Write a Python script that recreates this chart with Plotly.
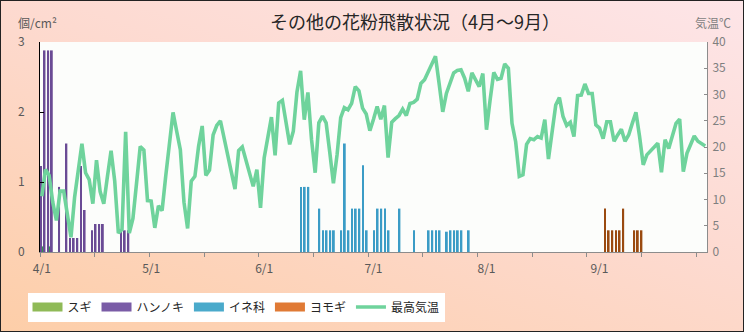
import plotly.graph_objects as go
import pandas as pd

# ---------------- data ----------------
dates = [f"{d.month}/{d.day}" for d in pd.date_range("2023-04-01", "2023-09-30")]
idx = {d: i for i, d in enumerate(dates)}

month_labels = ["4/1", "5/1", "6/1", "7/1", "8/1", "9/1"]

temp_max = [
    10.6, 15.7, 14.6, 9.5, 6.0, 11.6, 11.6, 7.3, 2.8, 10.5,
    16.0, 20.6, 15.1, 13.8, 9.2, 17.5, 11.5, 9.2, 14.4, 19.3,
    13.5, 3.6, 4.3, 22.9, 3.6, 6.4, 13.2, 20.1, 19.4, 9.8,
    9.7, 4.6, 8.8, 7.9, 14.5, 21.0, 26.6, 23.0, 19.5, 9.5,
    4.5, 13.5, 14.4, 20.1, 24.0, 14.6, 15.6, 22.3, 24.1, 25.0,
    21.5, 18.3, 15.2, 12.0, 19.3, 20.0, 17.4, 15.0, 12.5, 15.7,
    8.4, 17.9, 21.5, 25.7, 18.4, 28.4, 28.9, 24.5, 20.5, 23.0,
    30.5, 34.5, 25.2, 30.4, 21.4, 15.1, 24.6, 25.9, 24.6, 19.0,
    13.1, 18.5, 25.6, 27.5, 27.1, 28.3, 31.5, 30.7, 27.4, 26.3,
    23.1, 25.3, 27.7, 25.3, 27.9, 18.0, 24.7, 25.4, 26.0, 27.2,
    26.0, 28.3, 28.5, 29.1, 32.1, 32.8, 34.2, 35.8, 37.3, 32.1,
    26.7, 30.2, 32.3, 34.1, 34.6, 34.7, 33.1, 30.6, 34.1, 32.9,
    31.5, 34.0, 23.3, 29.0, 34.2, 32.9, 33.1, 35.8, 35.0, 24.5,
    21.0, 14.4, 14.7, 20.5, 21.6, 21.4, 22.0, 21.7, 25.2, 17.7,
    22.8, 28.0, 29.4, 25.8, 24.1, 24.7, 22.0, 29.8, 29.9, 32.0,
    30.2, 30.2, 24.2, 23.6, 21.6, 24.8, 24.8, 21.1, 22.3, 23.4,
    21.1, 22.3, 24.5, 26.6, 22.0, 16.6, 18.5, 19.3, 20.0, 20.7,
    15.2, 21.4, 19.7, 22.4, 24.5, 25.3, 15.3, 18.8, 20.7, 22.1,
    21.1, 20.7, 20.2,
]

sugi_dates = ["4/2", "4/4"]
sugi_vals = [0.08, 0.08]

hannoki_dates = ["4/1", "4/2", "4/3", "4/4", "4/6", "4/8", "4/9", "4/10", "4/11",
                 "4/12", "4/13", "4/15", "4/16", "4/17", "4/18", "4/23", "4/24", "4/25"]
hannoki_vals = [1.23, 2.88, 2.88, 2.88, 0.93, 1.55, 0.2, 0.2, 0.2,
                1.23, 0.6, 0.31, 0.4, 0.4, 0.4, 0.31, 0.31, 0.31]

ine_dates = ["6/11", "6/12", "6/13", "6/16", "6/17", "6/18", "6/19", "6/20", "6/22",
             "6/23", "6/24", "6/25", "6/26", "6/27", "6/28", "6/29",
             "7/1", "7/2", "7/3", "7/4", "7/5", "7/8", "7/12",
             "7/16", "7/17", "7/18", "7/19", "7/21", "7/22", "7/23", "7/24", "7/25", "7/27"]
ine_vals = [0.93, 0.93, 0.93, 0.62, 0.31, 0.31, 0.31, 0.31, 0.31,
            1.55, 0.31, 0.62, 0.62, 0.62, 1.24, 0.31,
            0.31, 0.62, 0.62, 0.62, 0.31, 0.62, 0.31,
            0.31, 0.31, 0.31, 0.31, 0.29, 0.31, 0.31, 0.31, 0.31, 0.31]

yomogi_dates = ["9/2", "9/3", "9/4", "9/5", "9/6", "9/7", "9/10", "9/11", "9/12"]
yomogi_vals = [0.62, 0.31, 0.31, 0.31, 0.31, 0.62, 0.31, 0.31, 0.31]

# ---------------- styling ----------------
FONT = "Noto Sans CJK JP"
C_SUGI, C_SUGI_LEG = "#2f9c45", "#8fba57"
C_HAN, C_HAN_LEG = "#6a4b95", "#7a5ca6"
C_INE, C_INE_LEG = "#3b9cc6", "#4aaacb"
C_YOM, C_YOM_LEG = "#9a4a10", "#e07a35"
C_LINE = "#6fd39c"

W, H = 744, 332
ML, MR, MT, MB = 40, 37, 42, 79
PW, PH = W - ML - MR, H - MT - MB


def px_to_paper(px, py):
    return (px - ML) / PW, (H - MB - py) / PH


fig = go.Figure()

series = [
    ("スギ", sugi_dates, sugi_vals, C_SUGI, C_SUGI_LEG, -0.80),
    ("ハンノキ", hannoki_dates, hannoki_vals, C_HAN, C_HAN_LEG, -0.50),
    ("イネ科", ine_dates, ine_vals, C_INE, C_INE_LEG, -0.12),
    ("ヨモギ", yomogi_dates, yomogi_vals, C_YOM, C_YOM_LEG, 0.27),
]

for name, ds, vs, col, _, off in series:
    fig.add_trace(go.Bar(
        x=[idx[d] for d in ds], y=vs, name=name, width=0.5, offset=off,
        marker=dict(color=col, line=dict(width=0)), showlegend=False, yaxis="y",
    ))

# legend patches
for name, _, _, col, legcol, _ in series:
    fig.add_trace(go.Scatter(
        x=[None], y=[None], mode="lines", name=name,
        line=dict(color=legcol, width=9), yaxis="y", hoverinfo="skip",
    ))

fig.add_trace(go.Scatter(
    x=list(range(len(dates))), y=temp_max, mode="lines", name="最高気温",
    line=dict(color=C_LINE, width=3.6), yaxis="y2",
))

lx, ly = px_to_paper(27.5, 292.5)
ax1x, ax1y = px_to_paper(37.5, 22)
ax2x, ax2y = px_to_paper(713, 22)

fig.update_layout(
    width=W, height=H, autosize=False,
    margin=dict(l=ML, r=MR, t=MT, b=MB, pad=0),
    paper_bgcolor="rgba(0,0,0,0)", plot_bgcolor="#fcfdfb",
    barmode="overlay",
    font=dict(family=FONT, size=12, color="#404040"),
    title=dict(text="その他の花粉飛散状況（4月～9月）", x=415 / W, xanchor="center",
               xref="container", y=1 - 23 / H, yanchor="middle", yref="container",
               font=dict(family=FONT, size=18, color="#262626")),
    xaxis=dict(
        range=[-0.5, len(dates) - 0.5], tickmode="array",
        tickvals=[idx[m] for m in month_labels], ticktext=month_labels,
        ticks="", showline=True, linecolor="#8c8c8c", linewidth=1,
        showgrid=False, zeroline=False, ticklabelstandoff=6,
        tickfont=dict(size=12, color="#595959", family=FONT),
        minor=dict(tickmode="array", tickvals=[-0.5 + 15 * k for k in range(13)],
                   ticks="outside", ticklen=4, tickcolor="#8c8c8c", tickwidth=1,
                   showgrid=False),
    ),
    yaxis=dict(
        range=[0, 3], tickmode="array", tickvals=[0, 1, 2, 3],
        ticks="inside", ticklen=4, tickcolor="#000000", tickwidth=1,
        showline=True, linecolor="#000000", linewidth=1,
        showgrid=False, zeroline=False, ticklabelstandoff=12,
        tickfont=dict(size=12, color="#595959", family=FONT),
    ),
    yaxis2=dict(
        overlaying="y", side="right", range=[0, 40], tickmode="linear", tick0=0, dtick=5,
        ticks="inside", ticklen=3, tickcolor="#8c8c8c", tickwidth=1,
        showline=True, linecolor="#8c8c8c", linewidth=1,
        showgrid=False, zeroline=False, ticklabelstandoff=2,
        tickfont=dict(size=12, color="#7f7f7f", family=FONT),
    ),
    legend=dict(
        orientation="h", x=lx, xanchor="left", y=ly, yanchor="top",
        bgcolor="#ffffff", borderwidth=0, itemwidth=30,
        font=dict(size=12, color="#262626", family=FONT),
        traceorder="normal",
    ),
    annotations=[
        dict(text="個/cm²", x=ax1x, y=ax1y, xref="paper", yref="paper",
             showarrow=False, xanchor="center", yanchor="middle",
             font=dict(size=12, color="#595959", family=FONT)),
        dict(text="気温℃", x=ax2x, y=ax2y, xref="paper", yref="paper",
             showarrow=False, xanchor="center", yanchor="middle",
             font=dict(size=12, color="#7f7f7f", family=FONT)),
    ],
)

post = (
    "var d=document.getElementById('{plot_id}');"
    "d.style.background='linear-gradient(200deg,#fde5e8 0%,#fddad0 45%,#fdcea8 100%)';"
    "d.style.boxShadow='inset 0 0 0 1px #222222';"
)

fig.write_html("out.html", post_script=post)
